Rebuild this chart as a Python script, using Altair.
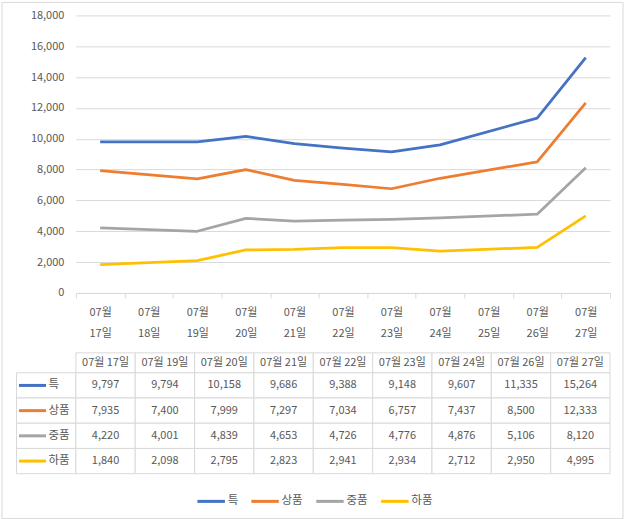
import altair as alt
import pandas as pd

# ---- data -------------------------------------------------------------
axis_days = ["07월 17일", "07월 18일", "07월 19일", "07월 20일", "07월 21일", "07월 22일",
             "07월 23일", "07월 24일", "07월 25일", "07월 26일", "07월 27일"]
data_days = ["07월 17일", "07월 19일", "07월 20일", "07월 21일", "07월 22일",
             "07월 23일", "07월 24일", "07월 26일", "07월 27일"]
series = ["특", "상품", "중품", "하품"]
colors = ["#4472C4", "#ED7D31", "#A5A5A5", "#FFC000"]
teuk = [9797, 9794, 10158, 9686, 9388, 9148, 9607, 11335, 15264]
sang = [7935, 7400, 7999, 7297, 7034, 6757, 7437, 8500, 12333]
jung = [4220, 4001, 4839, 4653, 4726, 4776, 4876, 5106, 8120]
ha = [1840, 2098, 2795, 2823, 2941, 2934, 2712, 2950, 4995]
y_ticks = list(range(0, 18001, 2000))

rows = []
for s, vals in zip(series, [teuk, sang, jung, ha]):
    for i, (d, v) in enumerate(zip(data_days, vals)):
        rows.append({"series": s, "day": d, "col": i, "value": v})
df = pd.DataFrame(rows)

hdr_df = pd.DataFrame({"day": data_days, "col": list(range(len(data_days))), "row": "h"})
cells_df = pd.DataFrame([{"series": s, "col": c} for s in series for c in range(-1, len(data_days))])
lg_df = pd.DataFrame({"series": series, "hex": colors, "col": -1})

FONT = "Noto Sans CJK KR"
TXT = "#595959"
GRID = "#d9d9d9"
W = 535

color_scale = alt.Scale(domain=series, range=colors)

# ---- line chart -------------------------------------------------------
lines = alt.Chart(df).mark_line(strokeWidth=2.75, strokeJoin="round").encode(
    x=alt.X("day:O", bandPosition=0.5,
            scale=alt.Scale(type="band", domain=axis_days, paddingInner=0, paddingOuter=0),
            axis=alt.Axis(title=None, labelAngle=0, labelExpr="split(datum.label, ' ')",
                          labelLineHeight=21, tickBand="extent", tickSize=5, tickColor=GRID,
                          domainColor=GRID, grid=False, labelPadding=9, labelFontSize=11,
                          labelColor=TXT, labelFont=FONT)),
    y=alt.Y("value:Q", scale=alt.Scale(domain=[0, 18000], nice=False),
            axis=alt.Axis(title=None, values=y_ticks, format=",.0f", ticks=False, tickSize=0,
                          domain=False, gridColor=GRID, labelPadding=12, labelFontSize=11,
                          labelColor=TXT, labelFont=FONT)),
    color=alt.Color("series:N", scale=color_scale, sort=series,
                    legend=alt.Legend(title=None, orient="none", direction="horizontal",
                                      legendX=120, legendY=471, padding=0,
                                      symbolType="stroke", symbolSize=756, symbolStrokeWidth=3,
                                      labelFont=FONT, labelFontSize=11.5, labelColor=TXT,
                                      labelOffset=1, columnPadding=6)),
)

frame = alt.Chart(alt.Data(values=[{}])).mark_rect(
    fill="white", fillOpacity=0, stroke=GRID, strokeWidth=1
).encode(x=alt.value(-74), x2=alt.value(548), y=alt.value(-13), y2=alt.value(504))

line_chart = alt.layer(frame, lines).properties(width=W, height=278)

# ---- table ------------------------------------------------------------
x_tab = alt.Scale(domain=[0, len(data_days)], nice=False, zero=False)

header_base = alt.Chart(hdr_df).transform_calculate(
    col_end="datum.col + 1", mid="datum.col + 0.5")
header_cells = header_base.mark_rect(fill="white", stroke=GRID, strokeWidth=1).encode(
    x=alt.X("col:Q", scale=x_tab, axis=None), x2="col_end:Q",
    y=alt.Y("row:N", axis=None, scale=alt.Scale(paddingInner=0, paddingOuter=0)))
header_text = header_base.mark_text(font=FONT, fontSize=11, color=TXT).encode(
    x=alt.X("mid:Q", scale=x_tab, axis=None),
    y=alt.Y("row:N", axis=None), text="day:N")
header = alt.layer(header_cells, header_text).properties(width=W, height=20)

y_body = alt.Y("series:N", sort=series, axis=None,
               scale=alt.Scale(domain=series, paddingInner=0, paddingOuter=0))
body_cells = alt.Chart(cells_df).transform_calculate(col_end="datum.col + 1").mark_rect(
    fill="white", stroke=GRID, strokeWidth=1).encode(
    x=alt.X("col:Q", scale=x_tab, axis=None), x2="col_end:Q", y=y_body)
body_text = alt.Chart(df).transform_calculate(mid="datum.col + 0.5").mark_text(
    font=FONT, fontSize=11, color=TXT).encode(
    x=alt.X("mid:Q", scale=x_tab, axis=None), y=y_body,
    text=alt.Text("value:Q", format=",.0f"))
row_sym = alt.Chart(lg_df).mark_point(shape="stroke", size=729, strokeWidth=3, opacity=1,
                                       xOffset=16).encode(
    x=alt.X("col:Q", scale=x_tab, axis=None), y=y_body,
    color=alt.Color("hex:N", scale=None))
row_lab = alt.Chart(lg_df).mark_text(font=FONT, fontSize=11.5, color=TXT, align="left",
                                     dx=32).encode(
    x=alt.X("col:Q", scale=x_tab, axis=None), y=y_body, text="series:N")
body = alt.layer(body_cells, body_text, row_sym, row_lab).properties(width=W, height=101)

table = alt.vconcat(header, body, spacing=0, bounds="flush")

chart = alt.vconcat(line_chart, table, spacing=60, bounds="flush").properties(
    padding=1, background="white"
).configure_view(stroke="transparent")

chart.save("out.html", embed_options={"renderer": "svg", "actions": False})
